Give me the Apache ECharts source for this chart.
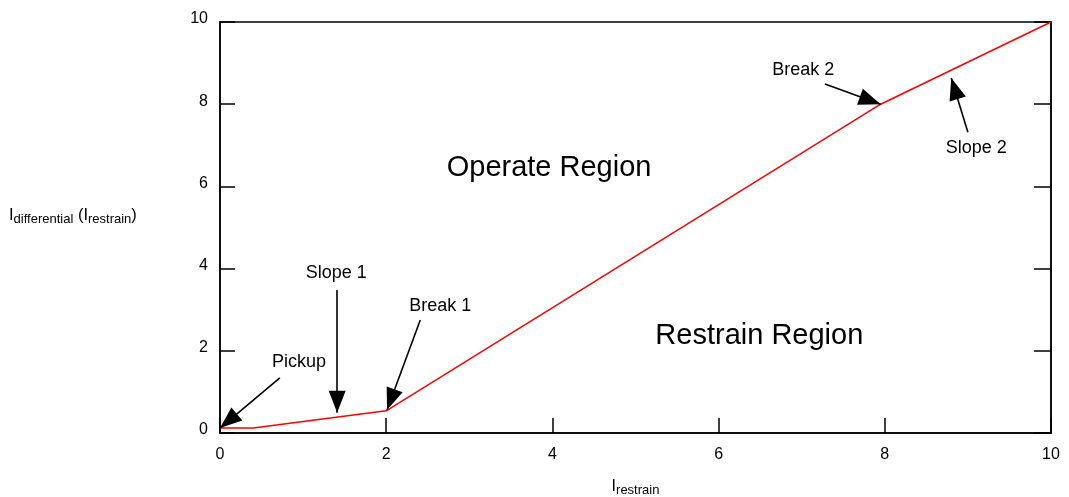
<!DOCTYPE html>
<html><head><meta charset="utf-8">
<script src="https://cdn.jsdelivr.net/npm/echarts@6/dist/echarts.min.js"></script>
<style>html,body{margin:0;padding:0;background:#fff}#c{width:1069px;height:497px}</style>
</head><body><div id="c"></div>
<script>
// characteristic curve
const curveX = [0, 0.4, 2, 7.95, 10];
const curveY = [0.12, 0.12, 0.54, 8, 10];
const xTicks = [0, 2, 4, 6, 8, 10];
const yTicks = [0, 2, 4, 6, 8, 10];
// annotation arrows: [tailX, tailY] -> [tipX, tipY]
const arrowNames = ['Pickup', 'Slope 1', 'Break 1', 'Break 2', 'Slope 2'];
const arrowTail = [[0.72, 1.34], [1.41, 3.48], [2.41, 2.75], [7.28, 8.49], [9.0, 7.32]];
const arrowTip = [[0.0, 0.12], [1.41, 0.49], [2.01, 0.56], [7.95, 8.0], [8.8, 8.64]];
const labelPos = [[0.95, 1.73], [1.4, 3.89], [2.65, 3.09], [7.02, 8.83], [9.1, 6.93]];
const regionNames = ['Operate Region', 'Restrain Region'];
const regionPos = [[3.96, 6.45], [6.49, 2.36]];

const font = '"Liberation Sans", Arial, sans-serif';
const chart = echarts.init(document.getElementById('c'));
const axisLine = {show: true, lineStyle: {color: '#000', width: 1.5}};
const textSeries = (names, pos, size) => ({
  type: 'custom',
  silent: true,
  data: names.map((n, i) => [pos[i][0], pos[i][1], n]),
  renderItem: (params, api) => {
    const p = api.coord([api.value(0), api.value(1)]);
    return {
      type: 'text', x: p[0], y: p[1],
      style: {text: names[params.dataIndex], fill: '#000', fontSize: size, fontFamily: font, align: 'center', verticalAlign: 'middle'}
    };
  }
});
chart.setOption({
  animation: false,
  grid: {left: 220, right: 18, top: 22, bottom: 64, show: true, borderColor: '#000', borderWidth: 1.5, containLabel: false, outerBoundsMode: 'none'},
  xAxis: {
    type: 'value', min: 0, max: 10, interval: 2,
    axisLine: axisLine,
    axisTick: {show: true, inside: true, length: 15, lineStyle: {color: '#000', width: 1.5}},
    splitLine: {show: false},
    axisLabel: {color: '#000', fontSize: 16, fontFamily: font, margin: 14},
    name: '{m|I}{s|restrain}', nameLocation: 'middle', nameGap: 43,
    nameTextStyle: {rich: {m: {fontSize: 16, fontFamily: font, color: '#000'}, s: {fontSize: 13, fontFamily: font, color: '#000', verticalAlign: 'bottom', padding: [8, 0, 0, 0]}}}
  },
  yAxis: [{
    type: 'value', min: 0, max: 10, interval: 2,
    axisLine: axisLine,
    axisTick: {show: true, inside: true, length: 15, lineStyle: {color: '#000', width: 1.5}},
    splitLine: {show: false},
    axisLabel: {color: '#000', fontSize: 16, fontFamily: font, margin: 12, verticalAlign: 'bottom', padding: [0, 0, -5, 0]}
  }, {
    type: 'value', min: 0, max: 10, interval: 2, position: 'right',
    axisLine: axisLine,
    axisTick: {show: true, inside: true, length: 17, lineStyle: {color: '#000', width: 1.5}},
    splitLine: {show: false},
    axisLabel: {show: false}
  }],
  graphic: [{
    type: 'text', left: 9, top: 207,
    style: {
      text: '{m|I}{s|differential}{m| (I}{s|restrain}{m|)}',
      rich: {m: {fontSize: 16.5, fontFamily: font, fill: '#000'}, s: {fontSize: 13, fontFamily: font, fill: '#000', padding: [8, 0, 0, 0]}}
    }
  }],
  series: [{
    type: 'line',
    data: curveX.map((x, i) => [x, curveY[i]]),
    symbol: 'none',
    lineStyle: {color: '#ff0000', width: 1.5},
    z: 3,
    markLine: {
      silent: true,
      symbol: ['none', 'triangle'],
      symbolSize: [17, 22],
      symbolOffset: [[0, 0], [0, 11]],
      lineStyle: {color: '#000', width: 1.6, type: 'solid'},
      itemStyle: {color: '#000'},
      label: {show: false},
      data: arrowTail.map((t, i) => [{coord: t}, {coord: arrowTip[i]}])
    }
  },
  textSeries(arrowNames, labelPos, 18),
  textSeries(regionNames, regionPos, 29)
  ]
});
</script></body></html>
